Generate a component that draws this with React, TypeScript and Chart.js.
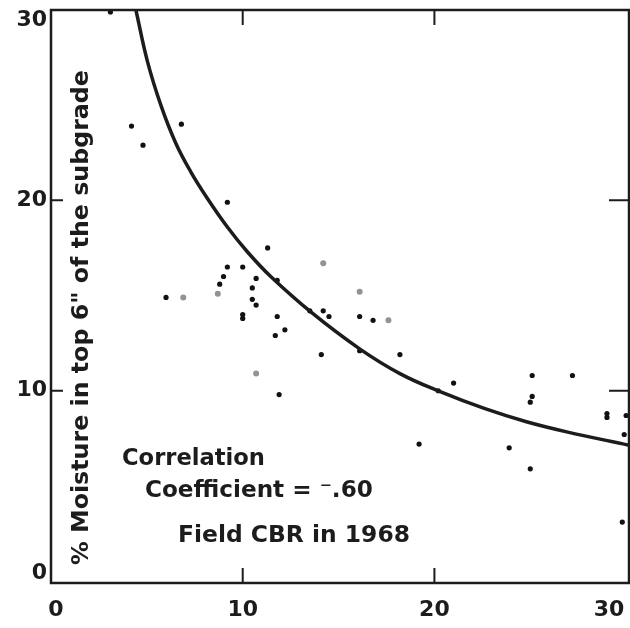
import React, { useEffect, useRef } from "react";
import { Chart, registerables } from "chart.js";

Chart.register(...registerables);

// Curve (hand-fitted line)
const curveX = [4.43, 5.03, 5.73, 6.51, 7.29, 8.16, 9.2, 10.24, 11.46, 13.6, 16.1, 18.2, 20.3, 22.6, 24.8, 26.9, 30.15];
const curveY = [30, 27.3, 25.0, 23.0, 21.5, 20.1, 18.6, 17.3, 16.0, 14.1, 12.2, 10.9, 9.95, 9.07, 8.37, 7.84, 7.14];

// Observed points (Field CBR vs % moisture)
const pointsX = [3.1, 4.2, 4.8, 6.8, 9.2, 11.3, 9.2, 10.0, 9.0, 10.7, 11.8, 8.8, 6.0, 10.5, 10.5, 10.7, 10.0, 10.0, 11.8, 13.5, 14.2, 14.5, 16.1, 16.8, 12.2, 11.7, 14.1, 16.1, 18.2, 11.9, 20.2, 21.0, 19.2, 23.9, 25.1, 25.1, 25.0, 25.0, 27.2, 29.0, 29.0, 30.0, 29.9, 29.8];
const pointsY = [29.9, 23.9, 22.9, 24.0, 19.9, 17.5, 16.5, 16.5, 16.0, 15.9, 15.8, 15.6, 14.9, 15.4, 14.8, 14.5, 14.0, 13.8, 13.9, 14.2, 14.2, 13.9, 13.9, 13.7, 13.2, 12.9, 11.9, 12.1, 11.9, 9.8, 10.0, 10.4, 7.2, 7.0, 10.8, 9.7, 9.4, 5.9, 10.8, 8.8, 8.6, 8.7, 7.7, 3.1];

// Faint (lighter printed) points
const faintX = [6.9, 8.7, 14.2, 16.1, 17.6, 10.7];
const faintY = [14.9, 15.1, 16.7, 15.2, 13.7, 10.9];

const xTicks = [0, 10, 20, 30];
const yTicks = [0, 10, 20, 30];
const innerTicks = [10, 20];

const yTitle = '% Moisture in top 6" of the subgrade';
const note1 = "Correlation";
const note2 = "Coefficient = \u207B.60";
const note3 = "Field CBR in 1968";

const INK = "#1c1c1c";
const FAMILY = '"DejaVu Sans", sans-serif';

function fitFont(ctx: CanvasRenderingContext2D, text: string, width: number, weight: string) {
  ctx.font = `${weight} 20px ${FAMILY}`;
  const w = ctx.measureText(text).width;
  const size = (20 * width) / w;
  ctx.font = `${weight} ${size.toFixed(2)}px ${FAMILY}`;
}

const framePlugin = {
  id: "framePlugin",
  afterDatasetsDraw(chart: any) {
    const ctx: CanvasRenderingContext2D = chart.ctx;
    const { left, right, top, bottom } = chart.chartArea;
    const xs = chart.scales.x;
    const ys = chart.scales.y;
    ctx.save();
    ctx.strokeStyle = INK;
    ctx.lineWidth = 2.5;
    ctx.strokeRect(left, top, right - left, bottom - top);

    // inward tick marks
    ctx.lineWidth = 2;
    const tl = 15;
    innerTicks.forEach((v) => {
      const px = xs.getPixelForValue(v);
      ctx.beginPath();
      ctx.moveTo(px, bottom);
      ctx.lineTo(px, bottom - tl);
      ctx.moveTo(px, top);
      ctx.lineTo(px, top + tl);
      const py = ys.getPixelForValue(v);
      ctx.moveTo(left, py);
      ctx.lineTo(left + tl - 3, py);
      ctx.moveTo(right, py);
      ctx.lineTo(right - tl - 5, py);
      ctx.stroke();
    });

    // tick labels
    ctx.fillStyle = INK;
    ctx.font = `bold 22px ${FAMILY}`;
    ctx.textAlign = "right";
    ctx.textBaseline = "middle";
    yTicks.forEach((v) => {
      let py = ys.getPixelForValue(v);
      py = Math.min(Math.max(py, top + 10), bottom - 10);
      ctx.fillText(String(v), left - 4, py);
    });
    ctx.textAlign = "center";
    xTicks.forEach((v) => {
      let px = xs.getPixelForValue(v);
      px = Math.min(Math.max(px, left + 5), right - 20);
      ctx.fillText(String(v), px, bottom + 27);
    });

    // y title inside plot
    ctx.save();
    ctx.translate(left + 37, (565 + 70) / 2);
    ctx.rotate(-Math.PI / 2);
    fitFont(ctx, yTitle, 495, "bold");
    ctx.textAlign = "center";
    ctx.textBaseline = "alphabetic";
    ctx.fillText(yTitle, 0, 0);
    ctx.restore();

    // annotations
    ctx.textAlign = "left";
    ctx.textBaseline = "alphabetic";
    fitFont(ctx, note1, 143, "bold");
    ctx.fillText(note1, 122, 465);
    fitFont(ctx, note2, 228, "bold");
    ctx.fillText(note2, 145, 497);
    fitFont(ctx, note3, 232, "bold");
    ctx.fillText(note3, 178, 542);
    ctx.restore();
  },
};

export default function App() {
  const ref = useRef<HTMLCanvasElement | null>(null);
  useEffect(() => {
    if (!ref.current) return;
    const chart = new Chart(ref.current, {
      type: "scatter",
      data: {
        datasets: [
          {
            label: "curve",
            data: curveX.map((x, i) => ({ x, y: curveY[i] })),
            showLine: true,
            borderColor: INK,
            borderWidth: 3.5,
            pointRadius: 0,
            tension: 0.4,
            fill: false,
          } as any,
          {
            label: "points",
            data: pointsX.map((x, i) => ({ x, y: pointsY[i] })),
            pointRadius: 2.6,
            pointBackgroundColor: "#111",
            pointBorderWidth: 0,
            borderColor: "#111",
          },
          {
            label: "faint",
            data: faintX.map((x, i) => ({ x, y: faintY[i] })),
            pointRadius: 3,
            pointBackgroundColor: "rgba(120,120,120,0.8)",
            pointBorderWidth: 0,
            borderColor: "rgba(120,120,120,0.8)",
          },
        ],
      },
      options: {
        animation: false,
        responsive: false,
        maintainAspectRatio: false,
        devicePixelRatio: 1,
        layout: { autoPadding: false, padding: { left: 51, right: 1, top: 10, bottom: 45 } },
        plugins: { legend: { display: false }, tooltip: { enabled: false } },
        scales: {
          x: { type: "linear", min: 0, max: 30.15, display: false },
          y: { type: "linear", min: -0.1, max: 30, display: false },
        },
      },
      plugins: [framePlugin],
    });
    return () => chart.destroy();
  }, []);
  return (
    <div style={{ position: "absolute", left: 0, top: 0, width: 630, height: 628, background: "#fff" }}>
      <canvas ref={ref} width={630} height={628} style={{ width: 630, height: 628, display: "block" }} />
    </div>
  );
}
